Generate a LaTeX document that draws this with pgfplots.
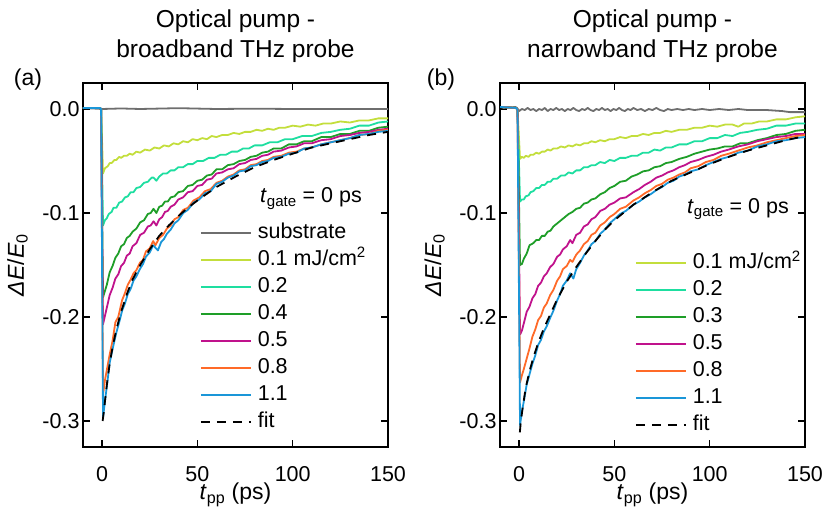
\documentclass[border=0pt]{standalone}
\usepackage{pgfplots}
\pgfplotsset{compat=1.18}
\usepackage{fontspec}
\setmainfont{Liberation Sans}
\definecolor{cgray}{RGB}{110,110,110}
\definecolor{cyel}{RGB}{195,222,60}
\definecolor{cteal}{RGB}{30,222,160}
\definecolor{cgreen}{RGB}{30,158,40}
\definecolor{cmag}{RGB}{192,18,140}
\definecolor{corange}{RGB}{255,106,40}
\definecolor{cblue}{RGB}{26,150,216}
\newcommand{\fs}{\fontsize{21.5}{25}\selectfont}
\newcommand{\fl}{\fontsize{23}{27}\selectfont}
\newcommand{\ft}{\fontsize{24.5}{29}\selectfont}
\pgfplotsset{
  myax/.style={
    scale only axis, width=305pt, height=364pt,
    xmin=-10, xmax=150, ymin=-0.325, ymax=0.025,
    xtick={0,50,100,150}, xticklabels={0,50,100,150},
    ytick={0,-0.1,-0.2,-0.3}, yticklabels={0.0,-0.1,-0.2,-0.3},
    tick align=inside, major tick length=7pt,
    every tick/.style={black, line width=1.3pt},
    axis line style={line width=1.6pt},
    tick label style={font=\fs},
    label style={font=\fl},
    xticklabel style={anchor=base, yshift=-34.5pt, inner sep=0pt},
    xlabel={\textit{t}\textsubscript{pp} (ps)},
    ylabel={\textit{ΔE}/\textit{E}\textsubscript{0}},
    xlabel style={at={([yshift=-53pt]axis description cs:0.5,0)}, anchor=base, inner sep=0pt},
    ylabel style={at={([xshift=-59pt]axis description cs:0,0.5)}, anchor=base, inner sep=0pt},
    every axis plot/.append style={line width=1.8pt, line join=round},
    legend cell align=left,
    legend image code/.code={\draw[#1] (0pt,0pt) -- (50pt,0pt); \path (56pt,0pt);},
    legend style={draw=none, fill=none, inner sep=0pt, outer sep=0pt, font=\fs,
      row sep=7pt, nodes={inner sep=0pt, text height=15.5pt, text depth=4.5pt}},
  }
}
\begin{document}
\begin{tikzpicture}[font=\fs]
\path[use as bounding box] (-83pt,-71pt) rectangle (747pt,447pt);
% ---------------- (a)
\begin{axis}[myax, name=A, at={(0pt,0pt)},
  legend style={at={(0.3836,0.6154)}, anchor=north west}]
\addplot[cgray] coordinates {(-10,0.001)(0,0)(10,0.0005)(20,0)(40,0.0008)(60,0)(80,0.0003)(100,0)(120,0)(150,0)};
\addlegendentry{substrate}
\addplot[cyel] coordinates {(-10,0.001)(-5,0.001)(-1,0.001)(-0.5,0)(0.5,-0.062)(1.5,-0.057)(3,-0.055)(4,-0.052)(5,-0.052)(6.5,-0.049)(7.5,-0.049)(9,-0.046)(10,-0.047)(11.5,-0.045)(13,-0.045)(14.5,-0.043)(16,-0.044)(18,-0.041)(20,-0.042)(22.5,-0.039)(25,-0.040)(27.5,-0.037)(30,-0.038)(32.5,-0.035)(35,-0.036)(37.5,-0.033)(40,-0.034)(42.5,-0.031)(45,-0.032)(47.5,-0.029)(50,-0.030)(52.5,-0.028)(55,-0.029)(57.5,-0.026)(60,-0.027)(63,-0.025)(66,-0.025)(69,-0.023)(72,-0.024)(75,-0.022)(78,-0.022)(81,-0.020)(84,-0.021)(87,-0.019)(90,-0.020)(93,-0.018)(96,-0.018)(100,-0.016)(104,-0.017)(108,-0.015)(112,-0.016)(116,-0.014)(120,-0.014)(125,-0.012)(130,-0.013)(135,-0.011)(140,-0.011)(145,-0.009)(150,-0.009)};
\addlegendentry{0.1 mJ/cm\textsuperscript{2}}
\addplot[cteal] coordinates {(-10,0.001)(-1,0.001)(-0.5,0)(0.5,-0.112)(1.5,-0.107)(2.5,-0.105)(3.5,-0.101)(5,-0.099)(6,-0.095)(7.5,-0.095)(9,-0.090)(10.5,-0.089)(12,-0.085)(13.5,-0.084)(15,-0.080)(16.5,-0.080)(18,-0.076)(20,-0.075)(22,-0.071)(24,-0.070)(26,-0.066)(27,-0.066)(28.5,-0.069)(30,-0.065)(32,-0.062)(34,-0.062)(36,-0.059)(38,-0.059)(40,-0.056)(42.5,-0.056)(45,-0.053)(47.5,-0.053)(50,-0.050)(53,-0.050)(56,-0.047)(59,-0.047)(62,-0.044)(65,-0.044)(68,-0.041)(71,-0.041)(74,-0.038)(77,-0.038)(80,-0.035)(84,-0.035)(88,-0.032)(92,-0.032)(96,-0.029)(100,-0.029)(105,-0.026)(110,-0.026)(115,-0.023)(120,-0.022)(125,-0.020)(130,-0.019)(135,-0.016)(140,-0.016)(145,-0.013)(150,-0.012)};
\addlegendentry{0.2}
\addplot[cgreen] coordinates {(-10,0.001)(-1,0.001)(-0.5,0)(0.5,-0.181)(1.5,-0.175)(2.5,-0.169)(4,-0.157)(5.5,-0.151)(7,-0.143)(8.5,-0.139)(10,-0.132)(11.5,-0.130)(13,-0.124)(14.5,-0.122)(16,-0.118)(18,-0.115)(20,-0.109)(22,-0.107)(24,-0.101)(25.5,-0.100)(27,-0.096)(28.5,-0.100)(30,-0.094)(31.5,-0.093)(33,-0.089)(34.5,-0.089)(36,-0.085)(38,-0.084)(40,-0.080)(42.5,-0.079)(45,-0.074)(47.5,-0.073)(50,-0.069)(52.5,-0.068)(55,-0.064)(57.5,-0.063)(60,-0.058)(63,-0.058)(66,-0.054)(69,-0.053)(72,-0.050)(75,-0.049)(78,-0.046)(81,-0.045)(84,-0.042)(87,-0.041)(90,-0.038)(94,-0.038)(98,-0.034)(102,-0.034)(106,-0.031)(110,-0.031)(115,-0.027)(120,-0.027)(125,-0.024)(130,-0.024)(135,-0.021)(140,-0.021)(145,-0.018)(150,-0.017)};
\addlegendentry{0.4}
\addplot[cmag] coordinates {(-10,0.001)(-1,0.001)(-0.5,0)(0.5,-0.207)(1.5,-0.199)(2.5,-0.191)(4,-0.179)(5.5,-0.172)(7,-0.163)(8.5,-0.159)(10,-0.151)(11.5,-0.148)(13,-0.141)(14.5,-0.139)(16,-0.132)(18,-0.129)(20,-0.121)(22,-0.119)(24,-0.113)(25.5,-0.112)(27,-0.108)(28.5,-0.112)(30,-0.106)(31.5,-0.104)(33,-0.099)(34.5,-0.098)(36,-0.094)(38,-0.092)(40,-0.087)(42.5,-0.085)(45,-0.080)(47.5,-0.079)(50,-0.074)(52.5,-0.073)(55,-0.068)(57.5,-0.067)(60,-0.062)(63,-0.061)(66,-0.058)(69,-0.057)(72,-0.053)(75,-0.052)(78,-0.049)(81,-0.048)(84,-0.045)(87,-0.044)(90,-0.041)(94,-0.040)(98,-0.037)(102,-0.036)(106,-0.033)(110,-0.033)(115,-0.030)(120,-0.029)(125,-0.026)(130,-0.025)(135,-0.023)(140,-0.022)(145,-0.020)(150,-0.019)};
\addlegendentry{0.5}
\addplot[corange] coordinates {(-10,0.001)(-1,0.001)(-0.5,0)(0.5,-0.275)(1.5,-0.261)(2.5,-0.251)(4,-0.236)(5.5,-0.223)(7,-0.205)(8.5,-0.200)(10.5,-0.184)(12,-0.177)(13.5,-0.169)(15,-0.164)(16.5,-0.158)(18,-0.155)(19.8,-0.148)(21.5,-0.145)(23,-0.137)(25,-0.134)(26.8,-0.127)(28,-0.131)(30,-0.124)(32,-0.121)(34,-0.115)(36,-0.112)(38,-0.106)(40,-0.104)(42.6,-0.097)(45,-0.095)(48,-0.088)(51,-0.085)(54,-0.079)(57,-0.077)(60,-0.071)(63,-0.069)(66,-0.065)(69,-0.063)(72,-0.059)(75,-0.058)(78,-0.054)(81,-0.053)(84,-0.050)(87,-0.049)(90,-0.046)(94,-0.045)(98,-0.042)(102,-0.041)(106,-0.038)(110,-0.037)(115,-0.034)(120,-0.032)(125,-0.030)(130,-0.028)(135,-0.025)(140,-0.024)(145,-0.021)(150,-0.020)};
\addlegendentry{0.8}
\addplot[cblue] coordinates {(-10,0.001)(-1,0.001)(-0.5,0)(0.5,-0.297)(1.5,-0.281)(2.5,-0.267)(4,-0.244)(5.5,-0.231)(7.5,-0.215)(9,-0.205)(10.5,-0.194)(12,-0.187)(13.5,-0.178)(15,-0.173)(16.5,-0.165)(18,-0.161)(19.8,-0.154)(21.5,-0.149)(23,-0.142)(25,-0.138)(26.8,-0.131)(29.3,-0.136)(31,-0.128)(32.5,-0.125)(34,-0.120)(36,-0.116)(38,-0.110)(40,-0.107)(42.6,-0.100)(45,-0.097)(48,-0.090)(51,-0.087)(54,-0.081)(57,-0.079)(60,-0.072)(63,-0.070)(66,-0.066)(69,-0.064)(72,-0.060)(75,-0.059)(78,-0.055)(81,-0.054)(84,-0.051)(87,-0.050)(90,-0.047)(94,-0.046)(98,-0.043)(102,-0.042)(106,-0.038)(110,-0.037)(115,-0.034)(120,-0.032)(125,-0.030)(130,-0.028)(135,-0.025)(140,-0.024)(145,-0.022)(150,-0.021)};
\addlegendentry{1.1}
\addplot[black, dash pattern=on 9pt off 7pt] coordinates {(0.3,-0.300)(1,-0.290)(2,-0.273)(3,-0.258)(4,-0.245)(5.5,-0.229)(7.5,-0.212)(10,-0.195)(13,-0.178)(16,-0.164)(20,-0.150)(25,-0.135)(30,-0.122)(35,-0.112)(40,-0.103)(45,-0.095)(50,-0.088)(60,-0.075)(70,-0.065)(80,-0.056)(90,-0.049)(100,-0.043)(110,-0.037)(120,-0.033)(130,-0.029)(140,-0.025)(150,-0.022)};
\addlegendentry{fit}
\end{axis}
% ---------------- (b)
\begin{axis}[myax, name=B, at={(417pt,0pt)},
  legend style={at={(0.4426,0.532)}, anchor=north west}]
\addplot[cgray, forget plot] coordinates {(-10,0.002)(-8,0.001)(-6,0.002)(-4,0.0015)(-2,0.002)(-1,0.001)(0,-0.002)(1.5,0.000)(3,-0.001)(4.5,0.001)(6,-0.001)(7.5,0.000)(9,-0.002)(10.5,0.000)(12,-0.001)(13.5,0.001)(15,-0.002)(16.5,0.000)(18,-0.001)(19.5,0.001)(21,-0.001)(22.5,0.000)(24,-0.002)(25.5,0.000)(27,-0.001)(28.5,0.001)(30,-0.001)(31.5,-0.002)(33,0.000)(34.5,-0.001)(36,0.001)(37.5,-0.001)(39,-0.002)(40.5,0.000)(42,-0.001)(43.5,0.001)(45,-0.001)(46.5,0.000)(48,-0.002)(49.5,0.000)(51,-0.001)(52.5,0.001)(54,-0.001)(55.5,-0.002)(57,0.000)(58.5,-0.001)(60,0.001)(62,-0.001)(64,0.000)(66,-0.002)(68,0.000)(70,-0.001)(72,0.001)(74,-0.001)(76,-0.002)(78,0.000)(80,-0.001)(83,0.000)(86,-0.001)(89,0.000)(92,-0.001)(96,0.000)(100,-0.001)(105,0.000)(110,-0.001)(115,0.000)(120,-0.001)(130,-0.001)(138,-0.002)(142,-0.003)(150,-0.003)};
\addplot[cyel] coordinates {(-10,0.002)(-1.5,0.001)(-0.8,-0.001)(0.5,-0.048)(1.5,-0.046)(2.5,-0.047)(3.5,-0.045)(5,-0.046)(6,-0.044)(7.5,-0.044)(9,-0.042)(10.5,-0.043)(12,-0.041)(13.5,-0.041)(15,-0.039)(16.5,-0.040)(18,-0.038)(20,-0.038)(22,-0.036)(24,-0.037)(26,-0.035)(28,-0.036)(30,-0.034)(32,-0.035)(34,-0.033)(36,-0.033)(38,-0.031)(40,-0.032)(42.5,-0.030)(45,-0.031)(47.5,-0.029)(50,-0.029)(53,-0.027)(56,-0.028)(59,-0.026)(62,-0.026)(65,-0.024)(68,-0.025)(71,-0.023)(74,-0.023)(77,-0.021)(80,-0.022)(84,-0.020)(88,-0.020)(92,-0.018)(96,-0.018)(100,-0.016)(104,-0.017)(108,-0.015)(112,-0.015)(115,-0.017)(118,-0.014)(122,-0.014)(126,-0.012)(130,-0.012)(135,-0.010)(140,-0.010)(145,-0.008)(150,-0.007)};
\addlegendentry{0.1 mJ/cm\textsuperscript{2}}
\addplot[cteal] coordinates {(-10,0.002)(-1.5,0.001)(-0.8,-0.001)(0.5,-0.089)(1.5,-0.087)(2.5,-0.087)(3.5,-0.084)(5,-0.083)(6,-0.080)(7.5,-0.079)(9,-0.076)(10.5,-0.076)(12,-0.073)(13.5,-0.073)(15,-0.070)(16.5,-0.070)(18,-0.067)(20,-0.067)(22,-0.064)(24,-0.064)(26,-0.061)(28,-0.062)(30,-0.059)(32,-0.059)(34,-0.056)(36,-0.056)(38,-0.054)(40,-0.054)(42.5,-0.051)(45,-0.052)(47.5,-0.049)(50,-0.050)(53,-0.047)(56,-0.047)(59,-0.045)(62,-0.045)(65,-0.042)(68,-0.042)(71,-0.039)(74,-0.040)(77,-0.037)(80,-0.037)(84,-0.034)(88,-0.034)(92,-0.031)(96,-0.031)(100,-0.028)(104,-0.028)(108,-0.025)(112,-0.026)(116,-0.023)(120,-0.022)(125,-0.020)(130,-0.019)(135,-0.016)(140,-0.016)(145,-0.014)(150,-0.014)};
\addlegendentry{0.2}
\addplot[cgreen] coordinates {(-10,0.002)(-1.5,0.001)(-0.8,-0.001)(0.5,-0.150)(1.5,-0.149)(2.5,-0.144)(4,-0.139)(5.5,-0.131)(7.5,-0.129)(9,-0.126)(10.5,-0.126)(12,-0.122)(13.5,-0.122)(15,-0.118)(16.5,-0.117)(18,-0.113)(20,-0.110)(22,-0.107)(24,-0.104)(26,-0.101)(28,-0.099)(30,-0.096)(32,-0.095)(34,-0.091)(36,-0.090)(38,-0.087)(40,-0.086)(42.6,-0.082)(45,-0.080)(47.5,-0.076)(50,-0.074)(53,-0.070)(56,-0.069)(59,-0.065)(62,-0.063)(65,-0.060)(68,-0.059)(71,-0.056)(74,-0.055)(77,-0.052)(80,-0.051)(84,-0.048)(88,-0.046)(92,-0.043)(96,-0.041)(100,-0.039)(104,-0.038)(108,-0.036)(112,-0.036)(116,-0.033)(120,-0.033)(125,-0.030)(130,-0.028)(135,-0.025)(140,-0.024)(145,-0.021)(150,-0.020)};
\addlegendentry{0.3}
\addplot[cmag] coordinates {(-10,0.002)(-1.5,0.001)(-0.8,-0.001)(0.5,-0.217)(1.5,-0.213)(2.5,-0.206)(4,-0.195)(5.5,-0.190)(7,-0.182)(8.5,-0.178)(10,-0.170)(11.5,-0.167)(13,-0.161)(14.5,-0.158)(16.3,-0.152)(18,-0.149)(20,-0.142)(21.5,-0.140)(23,-0.135)(25,-0.132)(26.8,-0.126)(28,-0.129)(30,-0.121)(32,-0.119)(34,-0.113)(36,-0.111)(38,-0.106)(40,-0.104)(42.6,-0.098)(45,-0.096)(47.5,-0.092)(50,-0.090)(53,-0.086)(56,-0.085)(60,-0.080)(63,-0.077)(66,-0.073)(69,-0.070)(72,-0.066)(75,-0.064)(78,-0.061)(81,-0.059)(84,-0.056)(87,-0.054)(90,-0.051)(94,-0.049)(98,-0.046)(102,-0.044)(106,-0.041)(110,-0.039)(115,-0.036)(120,-0.034)(125,-0.031)(130,-0.029)(135,-0.027)(140,-0.026)(145,-0.024)(150,-0.024)};
\addlegendentry{0.5}
\addplot[corange] coordinates {(-10,0.002)(-1.5,0.001)(-0.8,-0.001)(0.5,-0.263)(1.5,-0.256)(2.5,-0.250)(4,-0.240)(5.5,-0.230)(7,-0.219)(8.5,-0.212)(10,-0.203)(11.5,-0.199)(13,-0.191)(14.5,-0.187)(16.3,-0.179)(18,-0.174)(20,-0.165)(21.5,-0.161)(23,-0.154)(25,-0.151)(26.8,-0.145)(28,-0.147)(30,-0.140)(32,-0.136)(34,-0.130)(36,-0.127)(38,-0.121)(40,-0.119)(42.6,-0.112)(45,-0.109)(47.5,-0.104)(50,-0.101)(53,-0.096)(56,-0.094)(60,-0.088)(63,-0.085)(66,-0.081)(69,-0.078)(72,-0.074)(75,-0.072)(78,-0.068)(81,-0.066)(84,-0.063)(87,-0.061)(90,-0.057)(94,-0.055)(98,-0.051)(102,-0.049)(106,-0.045)(110,-0.043)(115,-0.040)(120,-0.037)(125,-0.035)(130,-0.032)(135,-0.030)(140,-0.028)(145,-0.026)(150,-0.025)};
\addlegendentry{0.8}
\addplot[cblue] coordinates {(-10,0.002)(-1.5,0.001)(-0.8,-0.001)(0.5,-0.304)(1.5,-0.291)(2.5,-0.281)(4,-0.265)(5.5,-0.255)(7,-0.245)(8.5,-0.237)(10,-0.227)(11.5,-0.222)(13,-0.214)(14.5,-0.209)(16.3,-0.201)(18,-0.194)(20,-0.184)(21.5,-0.178)(23,-0.170)(25,-0.165)(26.8,-0.158)(28.5,-0.163)(30,-0.154)(32,-0.148)(34,-0.141)(36,-0.136)(38,-0.130)(40,-0.127)(42.6,-0.120)(45,-0.116)(47.5,-0.110)(50,-0.106)(53,-0.101)(56,-0.098)(60,-0.092)(63,-0.089)(66,-0.085)(69,-0.082)(72,-0.078)(75,-0.075)(78,-0.071)(81,-0.069)(84,-0.065)(87,-0.063)(90,-0.060)(94,-0.058)(98,-0.054)(102,-0.051)(106,-0.048)(110,-0.046)(115,-0.042)(120,-0.040)(125,-0.036)(130,-0.034)(135,-0.031)(140,-0.030)(145,-0.028)(150,-0.027)};
\addlegendentry{1.1}
\addplot[black, dash pattern=on 9pt off 7pt] coordinates {(0.4,-0.311)(1,-0.299)(2,-0.286)(3,-0.274)(4,-0.264)(5.5,-0.252)(7.5,-0.239)(10,-0.225)(13,-0.211)(16,-0.199)(20,-0.183)(25,-0.166)(30,-0.152)(35,-0.139)(40,-0.127)(45,-0.116)(50,-0.107)(60,-0.092)(70,-0.080)(80,-0.069)(90,-0.061)(100,-0.053)(110,-0.046)(120,-0.040)(130,-0.035)(140,-0.030)(150,-0.026)};
\addlegendentry{fit}
\end{axis}
% ---------------- texts
\node[anchor=base, inner sep=0pt, font=\ft] at ([yshift=55pt]A.north) {Optical pump -};
\node[anchor=base, inner sep=0pt, font=\ft] at ([yshift=25pt]A.north) {broadband THz probe};
\node[anchor=base, inner sep=0pt, font=\ft] at ([yshift=55pt]B.north) {Optical pump -};
\node[anchor=base, inner sep=0pt, font=\ft] at ([yshift=25pt]B.north) {narrowband THz probe};
\node[anchor=base, inner sep=0pt, font=\fl] at ([xshift=-55pt,yshift=-2.5pt]A.north west) {(a)};
\node[anchor=base, inner sep=0pt, font=\fl] at ([xshift=-59pt,yshift=-2.5pt]B.north west) {(b)};
\node[anchor=base west, inner sep=0pt] at ([xshift=177pt,yshift=244pt]A.south west) {\textit{t}\textsubscript{gate} = 0 ps};
\node[anchor=base west, inner sep=0pt] at ([xshift=187pt,yshift=233.7pt]B.south west) {\textit{t}\textsubscript{gate} = 0 ps};
\end{tikzpicture}
\end{document}
